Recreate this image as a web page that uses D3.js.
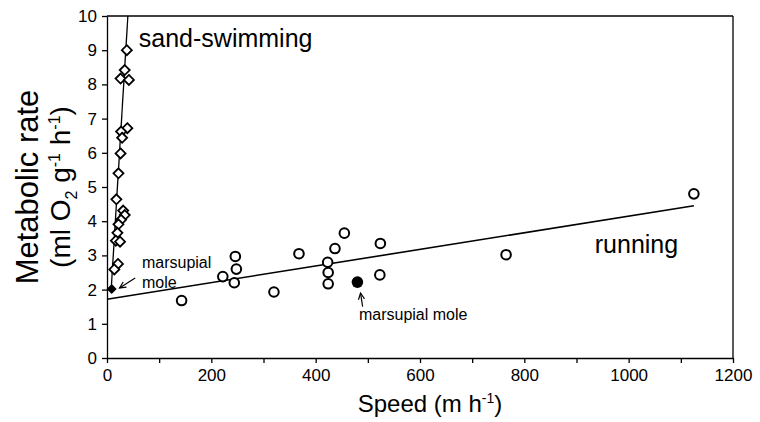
<!DOCTYPE html>
<html>
<head>
<meta charset="utf-8">
<script src="https://cdn.jsdelivr.net/npm/d3@7"></script>
<style>
	body { margin: 0; background: #fff; }
	text { font-family: "Liberation Sans", Arial, sans-serif; fill: #000; }
	.axis path, .axis line { stroke: #000; stroke-width: 1.3; }
	.axis text { font-size: 17px; }
</style>
</head>
<body>
<div id="chart"></div>
<script>
const width = 760;
const height = 422;

// running species (open circles)
const runSpeed = [143, 222, 246, 248, 244, 320, 368, 423, 424, 424, 437, 455, 524, 523, 765, 1125];
const runRate = [1.68, 2.38, 2.97, 2.6, 2.2, 1.93, 3.05, 2.8, 2.5, 2.17, 3.2, 3.65, 3.35, 2.43, 3.02, 4.8];

// sand-swimming species (open diamonds)
const sandSpeed = [38, 34, 26, 42, 39, 27, 29, 26, 22, 18, 31, 34, 27, 22, 20, 17, 25, 21, 14];
const sandRate = [9.0, 8.42, 8.17, 8.13, 6.72, 6.62, 6.44, 5.98, 5.4, 4.64, 4.31, 4.18, 4.04, 3.91, 3.66, 3.43, 3.4, 2.75, 2.59];

// marsupial mole, running and sand-swimming
const moleRun = [480, 2.22];
const moleSand = [9, 2.02];

// regression lines
const runLine = [[0, 1.72], [1125, 4.45]];
const sandLine = [[8, 2.0], [40, 10]];

const xTicks = d3.range(0, 1201, 100);
const xLabels = [0, 200, 400, 600, 800, 1000, 1200];
const yTicks = d3.range(0, 11, 1);

const svg = d3.select("#chart")
	.append("svg")
	.attr("width", width)
	.attr("height", height);

svg.append("rect")
	.attr("width", width)
	.attr("height", height)
	.attr("fill", "#fff");

const x = d3.scaleLinear().domain([0, 1200]).range([107, 733]);
const y = d3.scaleLinear().domain([0, 10]).range([358, 16]);

// frame top and right
svg.append("line")
	.attr("x1", x(0)).attr("x2", x(1200))
	.attr("y1", y(10)).attr("y2", y(10))
	.attr("stroke", "#000").attr("stroke-width", 1.3);
svg.append("line")
	.attr("x1", x(1200)).attr("x2", x(1200))
	.attr("y1", y(10)).attr("y2", y(0))
	.attr("stroke", "#000").attr("stroke-width", 1.3);

// axes
svg.append("g")
	.attr("class", "axis")
	.attr("transform", `translate(0,${y(0)})`)
	.call(d3.axisBottom(x)
		.tickValues(xTicks)
		.tickSize(5)
		.tickSizeOuter(0)
		.tickPadding(6)
		.tickFormat(d => xLabels.includes(d) ? d : ""));

svg.append("g")
	.attr("class", "axis")
	.attr("transform", `translate(${x(0)},0)`)
	.call(d3.axisLeft(y)
		.tickValues(yTicks)
		.tickSize(5)
		.tickSizeOuter(0)
		.tickPadding(5));

// clip to plot area so the steep line stops at the top
svg.append("clipPath").attr("id", "plot")
	.append("rect")
	.attr("x", x(0)).attr("y", y(10))
	.attr("width", x(1200) - x(0)).attr("height", y(0) - y(10));

const line = d3.line().x(d => x(d[0])).y(d => y(d[1]));

svg.append("path")
	.datum(runLine)
	.attr("d", line)
	.attr("fill", "none")
	.attr("stroke", "#000")
	.attr("stroke-width", 1.6);

svg.append("path")
	.datum(sandLine)
	.attr("d", line)
	.attr("clip-path", "url(#plot)")
	.attr("fill", "none")
	.attr("stroke", "#000")
	.attr("stroke-width", 1.3);

// points
const runPts = runSpeed.map((s, i) => [s, runRate[i]]);
const sandPts = sandSpeed.map((s, i) => [s, sandRate[i]]);

const diamond = d3.symbol().type(d3.symbolDiamond2).size(64);

svg.append("g").selectAll("path")
	.data(sandPts)
	.join("path")
	.attr("d", diamond)
	.attr("transform", d => `translate(${x(d[0])},${y(d[1])})`)
	.attr("fill", "#fff")
	.attr("stroke", "#000")
	.attr("stroke-width", 1.8);

svg.append("g").selectAll("circle")
	.data(runPts)
	.join("circle")
	.attr("cx", d => x(d[0]))
	.attr("cy", d => y(d[1]))
	.attr("r", 4.8)
	.attr("fill", "#fff")
	.attr("stroke", "#000")
	.attr("stroke-width", 2);

svg.append("path")
	.attr("d", diamond)
	.attr("transform", `translate(${x(moleSand[0])},${y(moleSand[1])})`)
	.attr("fill", "#000");

svg.append("circle")
	.attr("cx", x(moleRun[0]))
	.attr("cy", y(moleRun[1]))
	.attr("r", 5.8)
	.attr("fill", "#000");

// labels
svg.append("text")
	.attr("x", x(61)).attr("y", y(9.1))
	.style("font-size", "25px")
	.text("sand-swimming");

svg.append("text")
	.attr("x", x(935)).attr("y", y(3.07))
	.style("font-size", "25px")
	.text("running");

const moleLabel = svg.append("text")
	.attr("x", x(67)).attr("y", y(2.62))
	.style("font-size", "16px");
moleLabel.append("tspan").text("marsupial");
moleLabel.append("tspan").attr("x", x(67)).attr("dy", 20).text("mole");

svg.append("text")
	.attr("x", x(483)).attr("y", y(1.11))
	.style("font-size", "16px")
	.text("marsupial mole");

// arrows
function arrow(from, to){
	const x1 = x(from[0]), y1 = y(from[1]);
	const x2 = x(to[0]), y2 = y(to[1]);
	const a = Math.atan2(y1 - y2, x1 - x2);
	const h = 7, spread = 0.45;
	const g = svg.append("g")
		.attr("stroke", "#000")
		.attr("stroke-width", 1.2)
		.attr("fill", "none");
	g.append("line")
		.attr("x1", x1).attr("y1", y1)
		.attr("x2", x2).attr("y2", y2);
	g.append("path")
		.attr("d", `M${x2 + h * Math.cos(a - spread)},${y2 + h * Math.sin(a - spread)}L${x2},${y2}L${x2 + h * Math.cos(a + spread)},${y2 + h * Math.sin(a + spread)}`);
}

arrow([54, 2.34], [24, 2.05]);
arrow([490, 1.5], [486, 1.9]);

// axis titles
svg.append("text")
	.attr("x", 430).attr("y", 412)
	.attr("text-anchor", "middle")
	.style("font-size", "24px")
	.call(t => {
		t.append("tspan").text("Speed (m h");
		t.append("tspan").attr("dy", -9).style("font-size", "14px").text("-1");
		t.append("tspan").attr("dy", 9).text(")");
	});

const yTitle = svg.append("g")
	.attr("transform", `translate(0,${(y(0) + y(10)) / 2}) rotate(-90)`);

yTitle.append("text")
	.attr("x", 0).attr("y", 38)
	.attr("text-anchor", "middle")
	.style("font-size", "31px")
	.text("Metabolic rate");

yTitle.append("text")
	.attr("x", 0).attr("y", 70)
	.attr("text-anchor", "middle")
	.style("font-size", "28px")
	.call(t => {
		t.append("tspan").text("(ml O");
		t.append("tspan").attr("dy", 7).style("font-size", "16px").text("2");
		t.append("tspan").attr("dy", -7).text(" g");
		t.append("tspan").attr("dy", -10).style("font-size", "16px").text("-1");
		t.append("tspan").attr("dy", 10).text(" h");
		t.append("tspan").attr("dy", -10).style("font-size", "16px").text("-1");
		t.append("tspan").attr("dy", 10).text(")");
	});
</script>
</body>
</html>
